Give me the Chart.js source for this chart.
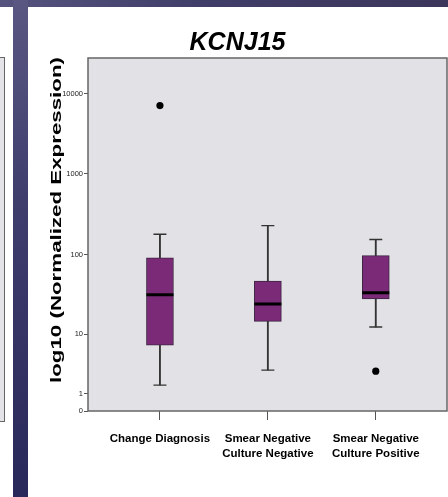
<!DOCTYPE html>
<html>
<head>
<meta charset="utf-8">
<script src="https://cdn.jsdelivr.net/npm/chart.js@4.4.0/dist/chart.umd.min.js"></script>
<style>
  html,body{margin:0;padding:0;background:#fff;}
  body{width:448px;height:497px;position:relative;overflow:hidden;}
  #topband{position:absolute;left:0;top:0;width:448px;height:7px;
    background:linear-gradient(90deg,#56547e 0%,#403d69 45%,#3b365a 100%);}
  #leftstrip{position:absolute;left:13px;top:0;width:15px;height:497px;
    background:linear-gradient(180deg,#5a5882 0%,#3f3d6c 40%,#28285a 100%);}
  #leftbox{position:absolute;left:-2px;top:57px;width:5px;height:363px;
    background:#e4e4e8;border:1px solid #666;}
  #panel{position:absolute;left:28px;top:7px;width:420px;height:490px;background:#fff;}
</style>
</head>
<body>
<div id="topband"></div>
<div id="leftstrip"></div>
<div id="leftbox"></div>
<div id="panel"><canvas id="c-box" width="420" height="490"></canvas></div>
<script>
/* ── data ── */
const categories=[['Change Diagnosis'],['Smear Negative','Culture Negative'],['Smear Negative','Culture Positive']];
const groupPos=[1,2,3];
const whiskerLow=[1.4,2.5,12.4];
const q1=[6.6,14.6,28];
const median=[31.5,24.2,33.4];
const q3=[92,47,98];
const whiskerHigh=[180,230,155];
const outlierGroup=[1,3];
const outlierValue=[7100,2.4];
const yTicks=[0,1,10,100,1000,10000];
const yTitle='log10 (Normalized Expression)';

/* ── SPSS-style axis: linear from 0 to 1, log above ── */
class AnchoredLogScale extends Chart.Scale{
  static id='anchoredLog';
  static defaults={};
  determineDataLimits(){
    const v=this.options.anchorValues;
    this.min=v[0];this.max=v[v.length-1];
  }
  buildTicks(){return this.options.anchorValues.map(v=>({value:v}));}
  getLabelForValue(v){return String(v);}
  toDecimal(v){
    const vals=this.options.anchorValues,decs=this.options.anchorDecimals;
    if(v<=vals[1])return decs[0]+(v-vals[0])/(vals[1]-vals[0])*(decs[1]-decs[0]);
    for(let i=2;i<vals.length;i++){
      if(v<=vals[i]||i===vals.length-1){
        const a=Math.log10(vals[i-1]),b=Math.log10(vals[i]);
        return decs[i-1]+(Math.log10(v)-a)/(b-a)*(decs[i]-decs[i-1]);
      }
    }
  }
  getPixelForValue(v){return this.getPixelForDecimal(this.toDecimal(v));}
  getPixelForTick(i){const t=this.ticks[i];return t?this.getPixelForValue(t.value):null;}
  getValueForPixel(p){
    const d=this.getDecimalForPixel(p);
    const vals=this.options.anchorValues,decs=this.options.anchorDecimals;
    if(d<=decs[1])return vals[0]+(d-decs[0])/(decs[1]-decs[0])*(vals[1]-vals[0]);
    for(let i=2;i<vals.length;i++){
      if(d<=decs[i]||i===vals.length-1){
        const a=Math.log10(vals[i-1]),b=Math.log10(vals[i]);
        return Math.pow(10,a+(d-decs[i-1])/(decs[i]-decs[i-1])*(b-a));
      }
    }
  }
}
Chart.register(AnchoredLogScale);

Chart.defaults.font.family="'Liberation Sans', Arial, sans-serif";
Chart.defaults.color='#000';

// grey plot background + frame
const plotFrame={
  id:'plotFrame',
  beforeDraw(chart){
    const{ctx,chartArea:a}=chart;
    ctx.save();ctx.fillStyle='#e2e1e6';ctx.fillRect(a.left,a.top,a.width,a.height);ctx.restore();
  },
  afterDraw(chart){
    const{ctx,chartArea:a}=chart;
    ctx.save();ctx.strokeStyle='#666';ctx.lineWidth=1.5;
    ctx.strokeRect(a.left,a.top,a.width,a.height);ctx.restore();
  }
};

// y axis title, stretched along its length like the exported figure
const tallTitle={
  id:'tallTitle',
  afterDraw(chart,args,o){
    const{ctx}=chart;
    ctx.save();
    ctx.font='bold '+o.size+'px '+Chart.defaults.font.family;
    ctx.fillStyle='#000';ctx.textAlign='center';ctx.textBaseline='middle';
    const w=ctx.measureText(o.text).width;
    ctx.translate(o.x,o.y);ctx.rotate(-Math.PI/2);ctx.scale(o.length/w,1);
    ctx.fillText(o.text,0,0);
    ctx.restore();
  }
};

const pts=(ys)=>groupPos.map((x,i)=>({x,y:ys[i]}));

new Chart(document.getElementById('c-box'),{
  type:'bar',
  data:{datasets:[
    {type:'line',label:'Outliers',data:outlierGroup.map((g,i)=>({x:g,y:outlierValue[i]})),
      showLine:false,pointStyle:'circle',pointRadius:3.6,pointBackgroundColor:'#000',pointBorderWidth:0,order:0},
    {type:'line',label:'Median',data:pts(median),showLine:false,pointStyle:'line',
      pointRadius:13.5,pointBorderWidth:3,pointBorderColor:'#000',order:1},
    {label:'IQR',data:groupPos.map((x,i)=>({x,y:[q1[i],q3[i]]})),
      backgroundColor:'#7b2a78',borderColor:'#3c2540',borderWidth:1,borderSkipped:false,
      barThickness:27,grouped:false,order:2},
    {type:'line',label:'Caps',data:pts(whiskerHigh).concat(pts(whiskerLow)),showLine:false,
      pointStyle:'line',pointRadius:6.5,pointBorderWidth:1.3,pointBorderColor:'#333',order:3},
    {label:'Whiskers',data:groupPos.map((x,i)=>({x,y:[whiskerLow[i],whiskerHigh[i]]})),
      backgroundColor:'#333',barThickness:1.2,grouped:false,order:4},
  ]},
  options:{
    responsive:false,animation:false,events:[],devicePixelRatio:1,
    layout:{autoPadding:false,padding:{left:0,right:1,top:0,bottom:0}},
    plugins:{
      legend:{display:false},tooltip:{enabled:false},
      title:{display:true,text:'KCNJ15',color:'#000',
        font:{size:25,weight:'bold',style:'italic',lineHeight:1.2},padding:{top:21,bottom:0}},
      tallTitle:{text:yTitle,size:14,length:326,x:29.5,y:213}
    },
    scales:{
      x:{type:'linear',min:1/3,max:3.66,offset:false,
        afterBuildTicks:s=>{s.ticks=groupPos.map(v=>({value:v}));},
        ticks:{callback:(v,i)=>categories[i],color:'#000',autoSkip:false,maxRotation:0,padding:11,
          font:{size:11.5,weight:'bold',lineHeight:1.3}},
        grid:{drawOnChartArea:false,offset:false,tickLength:9,color:'#555'},
        border:{display:false},
        afterFit:s=>{s.height=86;s.paddingLeft=0;s.paddingRight=0;}
      },
      y:{type:'anchoredLog',anchorValues:yTicks,
        anchorDecimals:[0,0.049,0.217,0.442,0.672,0.899],
        ticks:{color:'#222',padding:1,font:{size:7.5}},
        grid:{drawOnChartArea:false,tickLength:4,color:'#555'},
        border:{display:false},
        afterFit:s=>{s.width=60;}
      }
    }
  },
  plugins:[plotFrame,tallTitle]
});
</script>
</body>
</html>
